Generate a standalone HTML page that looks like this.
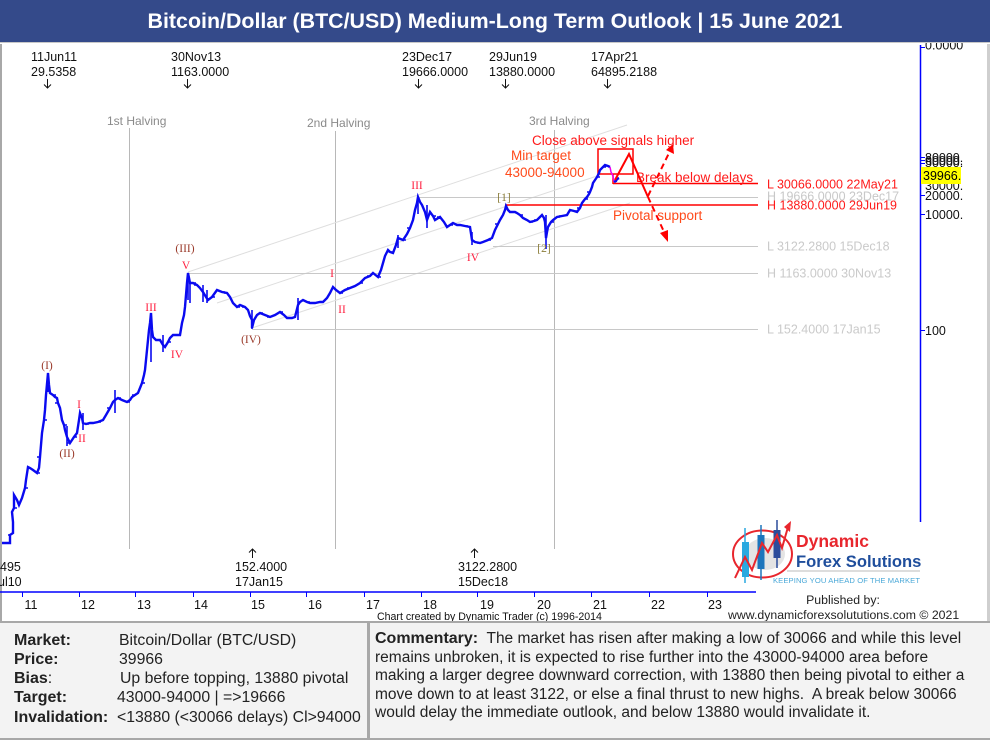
<!DOCTYPE html>
<html><head><meta charset="utf-8"><style>
*{margin:0;padding:0;box-sizing:border-box}
body{width:990px;height:740px;overflow:hidden;background:#fff;position:relative;font-family:"Liberation Sans",Arial,sans-serif}
#title{position:absolute;left:0;top:0;width:990px;height:43px;background:#344a8a;color:#fff;font-weight:bold;font-size:21.4px;text-align:center;line-height:42px;z-index:5;border-bottom:1px solid #c8c8c8}
#chart{position:absolute;left:0;top:0}
#panel{position:absolute;left:0;top:621px;width:990px;height:119px;background:#f3f3f3;border-top:2px solid #a8a8a8;border-bottom:2px solid #a8a8a8}
#div{position:absolute;left:367px;top:0;width:3px;height:117px;background:#a8a8a8}
.l{position:absolute;font-size:16px;color:#222;white-space:nowrap;line-height:19px}
.v{font-size:15.8px}
.b{font-weight:bold}
#comm{position:absolute;left:375px;top:7px;font-size:15.5px;color:#222;line-height:18.6px;white-space:nowrap}
#comm b{font-size:16px}
</style></head><body>
<div id="title">Bitcoin/Dollar (BTC/USD) Medium-Long Term Outlook | 15 June 2021</div>
<svg id="chart" width="990" height="621" viewBox="0 0 990 621" xmlns="http://www.w3.org/2000/svg" font-family="Liberation Sans, Arial, sans-serif">
<rect x="0" y="44" width="2" height="577" fill="#a8a8a8"/>
<rect x="987" y="44" width="3" height="577" fill="#cfcfcf"/>
<!-- halving lines -->
<g stroke="#b8b8b8" stroke-width="1">
<line x1="129.5" y1="128" x2="129.5" y2="549"/>
<line x1="335.5" y1="131" x2="335.5" y2="549"/>
<line x1="554.5" y1="130" x2="554.5" y2="549"/>
</g>
<g fill="#8a8a8a" font-size="12">
<text x="107" y="125">1st Halving</text>
<text x="307" y="127">2nd Halving</text>
<text x="529" y="125">3rd Halving</text>
</g>
<!-- channel lines -->
<g stroke="#dedede" stroke-width="1">
<line x1="188" y1="272" x2="627" y2="125"/>
<line x1="217" y1="303" x2="600" y2="175"/>
<line x1="252" y1="328" x2="630" y2="203"/>
</g>
<!-- level lines -->
<g stroke="#c8c8c8" stroke-width="1">
<line x1="418" y1="197.5" x2="758" y2="197.5"/>
<line x1="493" y1="246.5" x2="758" y2="246.5"/>
<line x1="188" y1="273.5" x2="758" y2="273.5"/>
<line x1="252" y1="329.5" x2="758" y2="329.5"/>
</g>
<g stroke="#ff0000" stroke-width="1.5" fill="none">
<line x1="613" y1="183.5" x2="758" y2="183.5"/>
<line x1="505" y1="205" x2="758" y2="205"/>
<rect x="598" y="149" width="35" height="25"/>
<line x1="613" y1="174" x2="613" y2="184"/>
</g>
<!-- level labels -->
<g font-size="12.5">
<text x="767" y="188.5" fill="#ff1a1a">L 30066.0000 22May21</text>
<text x="767" y="200.5" fill="#c8c8c8">H 19666.0000 23Dec17</text>
<text x="767" y="209.5" fill="#ff1a1a">H 13880.0000 29Jun19</text>
<text x="767" y="250.5" fill="#cacaca">L 3122.2800 15Dec18</text>
<text x="767" y="277.5" fill="#cacaca">H 1163.0000 30Nov13</text>
<text x="767" y="333.5" fill="#cacaca">L 152.4000 17Jan15</text>
</g>
<!-- price -->
<polyline fill="none" stroke="#0a0af0" stroke-width="2.4" stroke-linejoin="miter" points="2,543 10,543 10,535 13,533 13,522 12,512 14,508 14,495 17,500 19,505 22,498 25,488 26,480 28,467 30,468 33,470 37,473 39,468 40,457 41,445 42,433 44,420 45,410 46,395 48,373 49,385 50,393 53,395 55,397 57,398 58,403 60,408 62,420 64,425 65,430 67,437 70,443 72,440 74,437 77,433 79,420 80,413 82,418 83,423 86,424 90,423 93,423 98,422 103,420 106,415 110,408 113,402 115,400 118,398 122,400 127,402 130,400 132,397 135,395 138,393 140,388 142,383 144,375 145,370 146,360 147,350 148,340 149,330 150,323 151,313 152,330 153,337 156,340 160,340 163,345 165,347 168,342 170,338 173,335 177,335 180,335 182,323 184,315 185,307 186,295 187,283 188,273 189,278 190,283 193,283 197,285 200,288 203,292 206,297 208,300 212,297 217,290 222,292 227,293 230,297 233,303 237,307 240,305 245,307 248,310 250,316 252,320 252,328 254,320 257,315 260,313 265,315 270,317 275,315 280,312 284,315 287,318 292,318 295,317 298,305 300,302 303,300 307,302 310,303 315,303 320,302 323,302 327,298 330,293 333,287 336,290 340,293 345,290 350,288 355,286 360,283 365,278 370,276 373,273 378,277 381,270 383,263 385,256 388,250 390,252 393,253 396,245 398,238 403,240 407,234 410,228 413,220 415,210 417,203 418,197 420,202 422,205 425,212 427,220 430,212 433,216 435,220 440,217 444,222 447,227 450,225 453,223 457,225 460,225 465,226 470,227 472,240 475,242 480,243 483,242 488,240 492,238 495,230 498,224 500,220 503,215 505,210 506,206 508,210 510,212 515,212 517,213 520,215 523,218 527,220 530,222 534,221 537,220 540,217 542,215 544,218 545,222 546,238 547,232 548,227 551,222 553,220 557,217 562,216 567,215 570,210 574,211 577,212 580,208 582,203 585,199 587,197 589,194 590,192 592,187 593,183 595,180 597,177 599,173 600,170 603,167 605,165 608,166 610,167"/>
<polyline fill="none" stroke="#ee00ee" stroke-width="1.5" points="610,167 611,172 613,176 614,182"/>
<polyline fill="none" stroke="#0a0af0" stroke-width="2.4" points="614,182 616,181 617,179 619,178"/>
<path fill="none" stroke="#0a0af0" stroke-width="1.6" d="M11 535h-3M14 508h3M25 488h3M30 468h-3M37 473h3M40 457h-3M44 420h3M53 395h3M58 403h-3M64 425h3M70 443h-3M74 437h3M86 424h3M98 422h3M110 408h-3M118 398h3M127 402h3M135 395h-3M142 383h3M156 340h3M160 340h-3M168 342h3M177 335h3M193 283h3M197 285h-3M212 297h3M222 292h3M227 293h-3M237 307h3M245 307h-3M260 313h3M270 317h-3M280 312h3M292 318h-3M307 302h3M315 303h-3M320 302h3M340 293h3M350 288h-3M360 283h3M370 276h-3M378 277h3M390 252h3M403 240h3M410 228h-3M433 216h3M440 217h-3M450 225h3M460 225h-3M465 226h3M480 243h-3M488 240h3M498 224h-3M510 212h3M515 212h-3M520 215h3M530 222h3M537 220h-3M551 222h3M557 217h3M562 216h-3M574 211h3M580 208h-3M585 199h3M590 192h-3M597 177h3M603 167h3M608 166h-3"/>
<g stroke="#0a0af0" stroke-width="1.6">
<line x1="151" y1="313" x2="151" y2="362"/>
<line x1="188" y1="273" x2="188" y2="300"/>
<line x1="190" y1="282" x2="190" y2="303"/>
<line x1="203" y1="285" x2="203" y2="302"/>
<line x1="115" y1="390" x2="115" y2="413"/>
<line x1="48" y1="373" x2="48" y2="392"/>
<line x1="83" y1="413" x2="83" y2="430"/>
<line x1="252" y1="310" x2="252" y2="329"/>
<line x1="546" y1="215" x2="546" y2="249"/>
<line x1="472" y1="232" x2="472" y2="245"/>
<line x1="418" y1="197" x2="418" y2="214"/>
<line x1="427" y1="205" x2="427" y2="228"/>
<line x1="163" y1="335" x2="163" y2="352"/>
<line x1="67" y1="426" x2="67" y2="446"/>
<line x1="207" y1="290" x2="207" y2="303"/>
<line x1="298" y1="298" x2="298" y2="320"/>
<line x1="398" y1="235" x2="398" y2="248"/>
</g>
<!-- wave labels -->
<g font-family="Liberation Serif, serif" font-size="11.5" text-anchor="middle">
<text x="47" y="369" fill="#9a3a2a">(I)</text>
<text x="79" y="408" fill="#ff2040">I</text>
<text x="82" y="442" fill="#ff2040">II</text>
<text x="67" y="457" fill="#9a3a2a">(II)</text>
<text x="151" y="311" fill="#ff2040">III</text>
<text x="177" y="358" fill="#ff2040">IV</text>
<text x="185" y="252" fill="#9a3a2a">(III)</text>
<text x="186" y="269" fill="#ff2040">V</text>
<text x="251" y="343" fill="#9a3a2a">(IV)</text>
<text x="332" y="277" fill="#ff2040">I</text>
<text x="342" y="313" fill="#ff2040">II</text>
<text x="417" y="189" fill="#ff2040">III</text>
<text x="473" y="261" fill="#ff2040">IV</text>
<text x="504" y="201" fill="#8b7d3a">[1]</text>
<text x="544" y="252" fill="#8b7d3a">[2]</text>
</g>
<!-- red annotations -->
<g font-size="13.5">
<text x="532" y="145" fill="#ff1a1a">Close above signals higher</text>
<text x="511" y="160" fill="#ff4a1a">Min target</text>
<text x="505" y="177" fill="#ff4a1a">43000-94000</text>
<text x="636" y="182" fill="#ff1a1a">Break below delays</text>
<text x="613" y="220" fill="#ff4a1a">Pivotal support</text>
</g>
<g stroke="#ff0000" stroke-width="2" fill="none">
<polyline points="615,180 629,154 648,197"/>
<line x1="648" y1="197" x2="665" y2="234" stroke-dasharray="6,4"/>
<line x1="648" y1="196" x2="670" y2="151" stroke-dasharray="6,4"/>
</g>
<polygon points="668,242 660,233 668,230" fill="#ff0000"/>
<polygon points="673,144 674,154 666,150" fill="#ff0000"/>
<!-- top labels -->
<g font-size="12.5" fill="#111">
<text x="31" y="61">11Jun11</text><text x="31" y="76">29.5358</text>
<text x="171" y="61">30Nov13</text><text x="171" y="76">1163.0000</text>
<text x="402" y="61">23Dec17</text><text x="402" y="76">19666.0000</text>
<text x="489" y="61">29Jun19</text><text x="489" y="76">13880.0000</text>
<text x="591" y="61">17Apr21</text><text x="591" y="76">64895.2188</text>
<text x="235" y="571">152.4000</text><text x="235" y="586">17Jan15</text>
<text x="458" y="571">3122.2800</text><text x="458" y="586">15Dec18</text>
<text x="0" y="571">495</text><text x="-2" y="586">ul10</text>
</g>
<g stroke="#111" stroke-width="1" fill="none">
<path d="M47.5 79V88M44 84.5L47.5 88L51 84.5"/>
<path d="M187.5 79V88M184 84.5L187.5 88L191 84.5"/>
<path d="M418.5 79V88M415 84.5L418.5 88L422 84.5"/>
<path d="M505.5 79V88M502 84.5L505.5 88L509 84.5"/>
<path d="M607.5 79V88M604 84.5L607.5 88L611 84.5"/>
<path d="M252.5 549V558M249 552.5L252.5 549L256 552.5"/>
<path d="M474.5 549V558M471 552.5L474.5 549L478 552.5"/>
</g>
<!-- right axis -->
<line x1="920.5" y1="45" x2="920.5" y2="522" stroke="#0000ff" stroke-width="1.5"/>
<g stroke="#0000ff" stroke-width="1">
<line x1="920" y1="47.5" x2="925" y2="47.5"/>
<line x1="920" y1="157.5" x2="925" y2="157.5"/>
<line x1="920" y1="160.5" x2="925" y2="160.5"/>
<line x1="920" y1="163.5" x2="925" y2="163.5"/>
<line x1="920" y1="195.5" x2="925" y2="195.5"/>
<line x1="920" y1="214.5" x2="925" y2="214.5"/>
<line x1="920" y1="330.5" x2="925" y2="330.5"/>
</g>
<g font-size="12.5" fill="#111">
<text x="925" y="49.5">0.0000</text>
<text x="925" y="162">80000.</text>
<text x="925" y="165">60000.</text>
<text x="925" y="167">50000.</text>
<text x="925" y="190">30000.</text>
<text x="925" y="200">20000.</text>
<text x="925" y="219">10000.</text>
<text x="925" y="335">100</text>
</g>
<rect x="921" y="167" width="40" height="17" fill="#ffff00"/>
<text x="923" y="180" font-size="12.5" fill="#000">39966.</text>
<!-- bottom axis -->
<line x1="0" y1="592" x2="756" y2="592" stroke="#0000ff" stroke-width="1.5"/>
<g stroke="#0000ff" stroke-width="1">
<line x1="22.5" y1="592" x2="22.5" y2="597"/><line x1="79.5" y1="592" x2="79.5" y2="597"/>
<line x1="135.5" y1="592" x2="135.5" y2="597"/><line x1="193.5" y1="592" x2="193.5" y2="597"/>
<line x1="250.5" y1="592" x2="250.5" y2="597"/><line x1="306.5" y1="592" x2="306.5" y2="597"/>
<line x1="364.5" y1="592" x2="364.5" y2="597"/><line x1="421.5" y1="592" x2="421.5" y2="597"/>
<line x1="477.5" y1="592" x2="477.5" y2="597"/><line x1="534.5" y1="592" x2="534.5" y2="597"/>
<line x1="591.5" y1="592" x2="591.5" y2="597"/><line x1="649.5" y1="592" x2="649.5" y2="597"/>
<line x1="707.5" y1="592" x2="707.5" y2="597"/>
</g>
<g font-size="12.5" fill="#111" text-anchor="middle">
<text x="31" y="609">11</text><text x="88" y="609">12</text><text x="144" y="609">13</text>
<text x="201" y="609">14</text><text x="258" y="609">15</text><text x="315" y="609">16</text>
<text x="373" y="609">17</text><text x="430" y="609">18</text><text x="487" y="609">19</text>
<text x="544" y="609">20</text><text x="600" y="609">21</text><text x="658" y="609">22</text>
<text x="715" y="609">23</text>
</g>
<text x="377" y="620" font-size="10.6" fill="#111">Chart created by Dynamic Trader  (c) 1996-2014</text>
<!-- logo -->
<ellipse cx="765" cy="554" rx="20" ry="16" fill="#e4e4e4"/>
<ellipse cx="762.5" cy="554" rx="29.5" ry="23.5" fill="none" stroke="#e8262d" stroke-width="2"/>
<line x1="745" y1="528" x2="745" y2="583" stroke="#29a9e0" stroke-width="1.5"/>
<rect x="742" y="542" width="7" height="35" fill="#29a9e0"/>
<line x1="761" y1="525" x2="761" y2="580" stroke="#1c75bc" stroke-width="1.5"/>
<rect x="757.5" y="535" width="7" height="34" fill="#1c75bc"/>
<line x1="777" y1="520" x2="777" y2="568" stroke="#2b4c9b" stroke-width="1.5"/>
<rect x="773.5" y="530" width="7" height="28" fill="#2b4c9b"/>
<polyline points="735,578 745,557 752,570 762,543 768,552 777,535 782,548 788,527" fill="none" stroke="#e8262d" stroke-width="2"/>
<polygon points="791,521 790,532 784,527" fill="#e8262d"/>
<text x="796" y="547" font-size="17.5" font-weight="bold" fill="#e8262d">Dynamic</text>
<text x="796" y="567" font-size="16.6" font-weight="bold" fill="#1f4e9c">Forex Solutions</text>
<line x1="787" y1="571" x2="920" y2="571" stroke="#bbbbbb" stroke-width="1"/>
<text x="773" y="583" font-size="7.6" fill="#4aa8d8" textLength="147">KEEPING YOU AHEAD OF THE MARKET</text>
<text x="843" y="604" font-size="12.3" fill="#222" text-anchor="middle">Published by:</text>
<text x="728" y="619" font-size="12.3" fill="#222">www.dynamicforexsolututions.com © 2021</text>
</svg>
<div id="panel">
<div id="div"></div>
<div class="l b" style="left:14px;top:8px">Market:</div>
<div class="l b" style="left:14px;top:27px">Price:</div>
<div class="l" style="left:14px;top:46px"><b>Bias</b>:</div>
<div class="l b" style="left:14px;top:65px">Target:</div>
<div class="l b" style="left:14px;top:85px">Invalidation:</div>
<div class="l v" style="left:119px;top:8px">Bitcoin/Dollar (BTC/USD)</div>
<div class="l v" style="left:119px;top:27px">39966</div>
<div class="l v" style="left:120px;top:46px">Up before topping, 13880 pivotal</div>
<div class="l v" style="left:117px;top:65px">43000-94000 | =&gt;19666</div>
<div class="l v" style="left:117px;top:85px">&lt;13880 (&lt;30066 delays) Cl&gt;94000</div>
<div id="comm"><b>Commentary:</b>&nbsp; The market has risen after making a low of 30066 and while this level<br>remains unbroken, it is expected to rise further into the 43000-94000 area before<br>making a larger degree downward correction, with 13880 then being pivotal to either a<br>move down to at least 3122, or else a final thrust to new highs.&nbsp; A break below 30066<br>would delay the immediate outlook, and below 13880 would invalidate it.</div>
</div>
</body></html>
